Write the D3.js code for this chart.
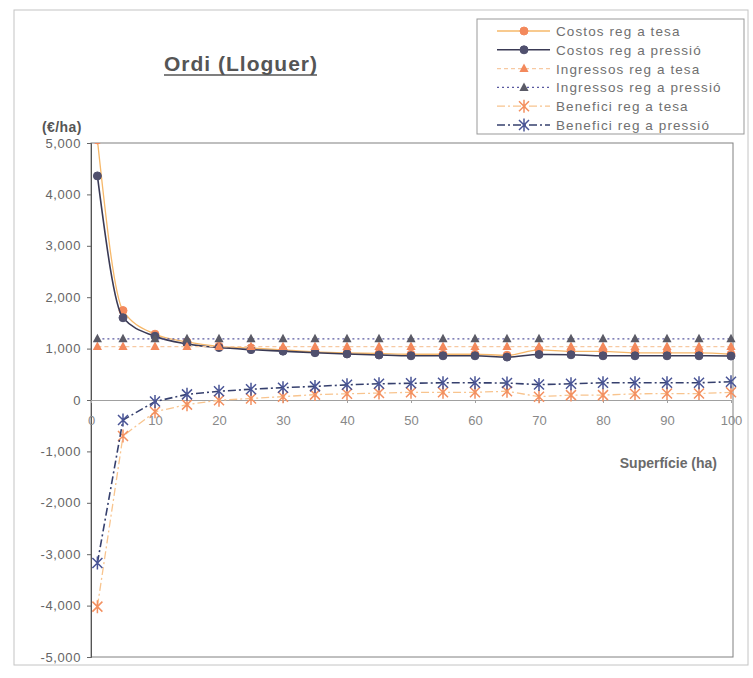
<!DOCTYPE html>
<meta charset="utf-8">
<script src="https://d3js.org/d3.v7.min.js"></script>
<style>
body { margin: 0; background: #fff; }
svg { font-family: "Liberation Sans", Arial, sans-serif; }
</style>
<body></body>
<script>

// data
var surface = [1, 5, 10, 15, 20, 25, 30, 35, 40, 45, 50, 55, 60, 65, 70, 75, 80, 85, 90, 95, 100];
var costosTesa    = [5060, 1740, 1280, 1130, 1045, 1010, 975, 935, 915, 905, 890, 890, 890, 870, 975, 945, 945, 915, 915, 915, 890];
var costosPressio = [4360, 1600, 1240, 1090, 1020, 980, 950, 920, 895, 875, 860, 860, 860, 835, 885, 880, 860, 860, 860, 860, 855];
var ingrTesa      = [1040, 1040, 1040, 1040, 1040, 1040, 1040, 1040, 1040, 1040, 1040, 1040, 1040, 1040, 1040, 1040, 1040, 1040, 1040, 1040, 1040];
var ingrPressio   = [1190, 1190, 1190, 1190, 1190, 1190, 1190, 1190, 1190, 1190, 1190, 1190, 1190, 1190, 1190, 1190, 1190, 1190, 1190, 1190, 1190];
var benefTesa     = [-4020, -700, -230, -90, -5, 30, 65, 105, 120, 135, 150, 150, 150, 170, 65, 95, 95, 120, 125, 125, 150];
var benefPressio  = [-3170, -390, -30, 110, 170, 210, 240, 265, 295, 315, 325, 335, 335, 330, 300, 315, 335, 335, 335, 335, 355];
var xTicks = [0, 10, 20, 30, 40, 50, 60, 70, 80, 90, 100];
var yTicks = [-5000, -4000, -3000, -2000, -1000, 0, 1000, 2000, 3000, 4000, 5000];

var series = [
  {name: "Costos reg a tesa",       values: costosTesa,    line: "#f6b86a", fill: "#f3895c", dash: null,        marker: "circle",   smooth: true,  lw: 1.3},
  {name: "Costos reg a pressió",    values: costosPressio, line: "#3a3a55", fill: "#50506e", dash: null,        marker: "circle",   smooth: true,  lw: 1.6},
  {name: "Ingressos reg a tesa",    values: ingrTesa,      line: "#f7c9a2", fill: "#f3895c", dash: "4,3",       marker: "triangle", smooth: false, lw: 1.2},
  {name: "Ingressos reg a pressió", values: ingrPressio,   line: "#5a5aa0", fill: "#5a5a66", dash: "2,3",       marker: "triangle", smooth: false, lw: 1.3},
  {name: "Benefici reg a tesa",     values: benefTesa,     line: "#f8c48e", fill: "#f39060", dash: "8,3,2,3",   marker: "star",     smooth: false, lw: 1.3},
  {name: "Benefici reg a pressió",  values: benefPressio,  line: "#36406e", fill: "#4a5596", dash: "8,3,2,3",   marker: "star",     smooth: false, lw: 1.6}
];

var width = 753, height = 678;

var svg = d3.select("body").append("svg")
    .attr("width", width)
    .attr("height", height);

svg.append("rect").attr("width", width).attr("height", height).attr("fill", "#fff");

// outer chart border
svg.append("rect")
    .attr("x", 14).attr("y", 10)
    .attr("width", 734).attr("height", 655)
    .attr("fill", "none")
    .attr("stroke", "#c4c4c4");

var xScale = d3.scaleLinear().domain([0, 100]).range([91, 731]);
var yScale = d3.scaleLinear().domain([-5000, 5000]).range([657, 143]);

var fmt = d3.formatLocale({decimal: ".", thousands: ",", grouping: [3], currency: ["", ""], minus: "-"}).format(",");

// plot frame
svg.append("rect")
    .attr("x", xScale(0)).attr("y", yScale(5000))
    .attr("width", xScale(100) - xScale(0) + 2)
    .attr("height", yScale(-5000) - yScale(5000))
    .attr("fill", "none")
    .attr("stroke", "#808080");

// y axis
var yAxis = d3.axisLeft(yScale).tickValues(yTicks).tickFormat(fmt).tickSize(4).tickPadding(6);
var yAxisGroup = svg.append("g")
    .attr("transform", `translate(${xScale(0)},0)`)
    .call(yAxis);
yAxisGroup.select(".domain").attr("stroke", "#555");
yAxisGroup.selectAll(".tick line").attr("stroke", "#666");
yAxisGroup.selectAll("text")
    .attr("fill", "#666")
    .style("font-size", "13px")
    .style("letter-spacing", "0.6px");

// x axis on the zero line
var xAxis = d3.axisBottom(xScale).tickValues(xTicks).tickSize(3).tickPadding(13);
var xAxisGroup = svg.append("g")
    .attr("transform", `translate(0,${yScale(0)})`)
    .call(xAxis);
xAxisGroup.select(".domain").attr("stroke", "#a0a0a0");
xAxisGroup.selectAll(".tick line").attr("stroke", "#a0a0a0");
xAxisGroup.selectAll("text")
    .attr("fill", "#888")
    .style("font-size", "13px");

// titles
var title = svg.append("text")
    .attr("x", 164).attr("y", 71)
    .attr("fill", "#555")
    .style("font-size", "21px")
    .style("font-weight", "bold")
    .style("letter-spacing", "1px")
    .text("Ordi (Lloguer)");
var tb = title.node().getBBox();
svg.append("line")
    .attr("x1", tb.x).attr("x2", tb.x + tb.width - 1)
    .attr("y1", 75).attr("y2", 75)
    .attr("stroke", "#555").attr("stroke-width", 1.6);

svg.append("text")
    .attr("x", 42).attr("y", 132)
    .attr("fill", "#555")
    .style("font-size", "14px")
    .style("font-weight", "bold")
    .style("letter-spacing", "0.4px")
    .text("(€/ha)");

svg.append("text")
    .attr("x", 717).attr("y", 468)
    .attr("text-anchor", "end")
    .attr("fill", "#6a6a6a")
    .style("font-size", "14px")
    .style("font-weight", "bold")
    .text("Superfície (ha)");

// clip for plot
svg.append("clipPath").attr("id", "plotclip")
  .append("rect")
    .attr("x", xScale(0)).attr("y", yScale(5000))
    .attr("width", xScale(100) - xScale(0) + 8)
    .attr("height", yScale(-5000) - yScale(5000));

var plot = svg.append("g").attr("clip-path", "url(#plotclip)");

function drawMarker(g, type, fill) {
  if (type === "circle") {
    g.append("circle").attr("r", 4).attr("fill", fill).attr("stroke", fill);
  } else if (type === "triangle") {
    g.append("path").attr("d", "M0,-5L4.6,3.5L-4.6,3.5Z").attr("fill", fill);
  } else {
    g.append("path").attr("d", "M-5,-5L5,5M-5,5L5,-5M0,-6.5L0,6.5")
      .attr("fill", "none").attr("stroke", fill).attr("stroke-width", 1.5);
  }
}

series.forEach(function(s) {
  var pts = surface.map((x, i) => [x, s.values[i]]);
  var line = d3.line()
    .x(d => xScale(d[0]))
    .y(d => yScale(d[1]))
    .curve(s.smooth ? d3.curveMonotoneX : d3.curveLinear);

  plot.append("path")
    .datum(pts)
    .attr("d", line)
    .attr("fill", "none")
    .attr("stroke", s.line)
    .attr("stroke-width", s.lw)
    .attr("stroke-dasharray", s.dash);

  plot.selectAll(null)
    .data(pts)
    .enter().append("g")
    .attr("transform", d => `translate(${xScale(d[0])},${yScale(d[1])})`)
    .each(function() { drawMarker(d3.select(this), s.marker, s.fill); });
});

// legend
var legend = svg.append("g");
legend.append("rect")
    .attr("x", 477).attr("y", 19)
    .attr("width", 267).attr("height", 115)
    .attr("fill", "#fff")
    .attr("stroke", "#999");

var rows = legend.selectAll(".row")
    .data(series)
    .enter().append("g")
    .attr("class", "row")
    .attr("transform", (d, i) => `translate(0,${31 + i * 18.8})`);

rows.append("line")
    .attr("x1", 497).attr("x2", 550)
    .attr("stroke", d => d.line)
    .attr("stroke-width", d => d.lw)
    .attr("stroke-dasharray", d => d.dash);

rows.each(function(d) {
  var g = d3.select(this).append("g").attr("transform", "translate(524,0)");
  drawMarker(g, d.marker, d.fill);
});

rows.append("text")
    .attr("x", 556).attr("y", 5)
    .attr("fill", "#707070")
    .style("font-size", "13.5px")
    .style("letter-spacing", "1.1px")
    .text(d => d.name);

</script>
